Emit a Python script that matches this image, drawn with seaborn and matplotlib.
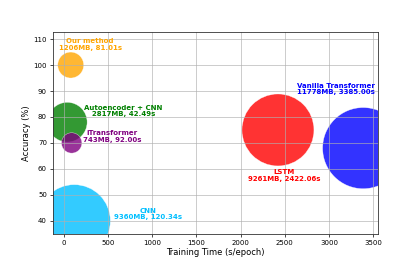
import matplotlib
matplotlib.use("Agg")
import matplotlib.pyplot as plt
import seaborn as sns
import pandas as pd

# Data
models = ["CNN", "LSTM", "Autoencoder + CNN", "iTransformer", "Vanilla Transformer", "Our method"]
train_time = [120.34, 2422.06, 42.49, 92.00, 3385.00, 81.01]
accuracy = [40, 75, 78, 70, 68, 100]
memory_mb = [9360, 9261, 2817, 743, 11778, 1206]
colors = ["deepskyblue", "red", "green", "purple", "blue", "orange"]
# label anchor points (data coordinates)
label_x = [950, 2490, 675, 550, 3080, 300]
label_y = [42.6, 57.5, 82.3, 72.5, 90.8, 108]

df = pd.DataFrame({"model": models, "time": train_time, "acc": accuracy, "mem": memory_mb})

fig, ax = plt.subplots(figsize=(4.2, 2.63), dpi=100)
fig.subplots_adjust(left=0.125, right=0.9, top=0.878, bottom=0.11)

k = 0.29
sns.scatterplot(data=df, x="time", y="acc", hue="model", palette=dict(zip(models, colors)),
                size="mem", sizes=(min(memory_mb) * k, max(memory_mb) * k),
                alpha=0.8, legend=False, ax=ax, edgecolor="white", linewidth=0.3)

for m, t, mem, c, lx, ly in zip(models, train_time, memory_mb, colors, label_x, label_y):
    ax.text(lx, ly, f"{m}\n{mem}MB, {t:.2f}s", color=c, fontsize=5, fontweight="bold",
            ha="center", va="center", linespacing=1.15)

ax.set_ylim(34.9, 112.7)
ax.set_xlabel("Training Time (s/epoch)", fontsize=6, labelpad=1.5)
ax.set_ylabel("Accuracy (%)", fontsize=6, labelpad=2)
ax.tick_params(labelsize=5, length=2, width=0.5, pad=2)
ax.grid(True, color="#b0b0b0", linewidth=0.7, alpha=0.65)
for s in ax.spines.values():
    s.set_linewidth(0.6)
    s.set_color("#333333")

fig.savefig("out.png", dpi=100)
